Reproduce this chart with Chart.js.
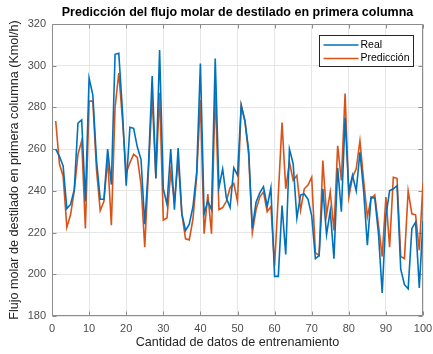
<!DOCTYPE html>
<html>
<head>
<meta charset="utf-8">
<script src="https://cdn.jsdelivr.net/npm/chart.js@4.4.1/dist/chart.umd.min.js"></script>
<style>
  html, body { margin: 0; padding: 0; background: #fff; }
  #wrap { width: 433px; height: 354px; }
</style>
</head>
<body>
<div id="wrap"><canvas id="flujoChart" width="433" height="354"></canvas></div>
<script>
// Flujo molar de destilado (Kmol/h), muestras 1..100
const real = [
  260, 256.5, 252, 231.5, 233.5, 240.5, 272.5, 274, 235, 294,
  286, 254.5, 236, 236, 260, 243, 305.5, 306, 278, 242.5,
  270.5, 270, 261, 255, 224, 252, 295, 246, 307.5, 241,
  233.5, 260, 231, 260.5, 229, 221, 224, 232.5, 249, 301,
  229, 235, 231, 303.5, 241.5, 250.5, 236.5, 232, 251, 247.5,
  281, 273.5, 259.5, 222, 234.5, 239, 242, 232.5, 241.5, 199,
  199, 233, 209.5, 260, 253, 227, 238, 238.5, 236, 228,
  207.5, 209, 241, 219, 230.5, 207.5, 251, 230, 275, 240,
  247.5, 240, 258.5, 240, 214, 237, 236.5, 219.5, 191, 228,
  240, 241, 242.5, 202.5, 195, 193, 222, 225, 193.5, 225.5
];
const prediccion = [
  273.5, 253, 247, 222.5, 228.5, 240, 257.5, 264, 222, 283,
  283, 250, 230.5, 235, 255.5, 223.5, 280, 296.5, 274, 248.5,
  253.5, 257.5, 256, 243, 213, 250, 285.5, 246, 287, 226,
  227, 249, 235, 255, 229, 217, 216.5, 226.5, 247, 283.5,
  219.5, 238.5, 219.5, 288, 231, 232, 235, 241.5, 243.5, 235,
  281, 273.5, 257.5, 220, 231, 237, 239.5, 230, 232.5, 204,
  238, 272.7, 241, 253.8, 245, 247.4, 230.7, 241, 242.8, 246.5,
  210.3, 209, 254.5, 228.5, 239.5, 221, 261.6, 245, 286.7, 237,
  246.6, 250.6, 264, 245, 227.5, 236.3, 238, 223.5, 208.5, 237,
  213, 246.5, 246, 208.5, 207.5, 240, 229, 228.5, 211.5, 244
];
const serieNombres = ['Real', 'Predicción'];
const xRango = [0, 100, 10];   // min, max, paso
const yRango = [180, 320, 20];

const FUENTE = '"Liberation Sans", Arial, Helvetica, sans-serif';

function aPuntos(arr) {
  return arr.map((v, i) => ({ x: i + 1, y: v }));
}

// marco del eje con marcas hacia dentro (estilo MATLAB)
const marcoEjes = {
  id: 'marcoEjes',
  beforeDatasetsDraw(chart) {
    const { ctx, chartArea: a, scales } = chart;
    const L = Math.round(a.left) + 0.5, R = Math.round(a.right) - 0.5;
    const T = Math.round(a.top) + 0.5, B = Math.round(a.bottom) - 0.5;
    ctx.save();
    ctx.strokeStyle = '#8c8c8c';
    ctx.lineWidth = 1;
    ctx.beginPath();
    ctx.rect(L, T, R - L, B - T);
    scales.x.ticks.forEach(t => {
      const px = Math.round(scales.x.getPixelForValue(t.value)) + 0.5;
      ctx.moveTo(px, B); ctx.lineTo(px, B - 4);
      ctx.moveTo(px, T); ctx.lineTo(px, T + 4);
    });
    scales.y.ticks.forEach(t => {
      const py = Math.round(scales.y.getPixelForValue(t.value)) + 0.5;
      ctx.moveTo(L, py); ctx.lineTo(L + 4, py);
      ctx.moveTo(R, py); ctx.lineTo(R - 4, py);
    });
    ctx.stroke();
    ctx.restore();
  }
};

// leyenda en la esquina superior derecha
const cajaLeyenda = {
  id: 'cajaLeyenda',
  afterDraw(chart) {
    const { ctx, chartArea: a } = chart;
    const w = 94, h = 31;
    const x0 = Math.round(a.right - 10 - w) + 0.5, y0 = Math.round(a.top + 11) + 0.5;
    ctx.save();
    ctx.fillStyle = '#fff';
    ctx.fillRect(x0, y0, w, h);
    ctx.strokeStyle = '#262626';
    ctx.lineWidth = 1;
    ctx.strokeRect(x0, y0, w, h);
    ctx.font = '10.5px ' + FUENTE;
    ctx.textBaseline = 'middle';
    chart.data.datasets.forEach((ds, i) => {
      const y = y0 + 9.5 + i * 13.5;
      ctx.strokeStyle = ds.borderColor;
      ctx.lineWidth = 1.5;
      ctx.beginPath();
      ctx.moveTo(x0 + 4, y);
      ctx.lineTo(x0 + 39, y);
      ctx.stroke();
      ctx.fillStyle = '#000';
      ctx.fillText(ds.label, x0 + 41, y);
    });
    ctx.restore();
  }
};

const ctx = document.getElementById('flujoChart').getContext('2d');
new Chart(ctx, {
  type: 'line',
  data: {
    datasets: [
      {
        label: serieNombres[0],
        data: aPuntos(real),
        borderColor: '#0072BD',
        backgroundColor: '#0072BD'
      },
      {
        label: serieNombres[1],
        data: aPuntos(prediccion),
        borderColor: '#D95319',
        backgroundColor: '#D95319'
      }
    ]
  },
  options: {
    responsive: false,
    animation: false,
    layout: { padding: 0 },
    elements: {
      line: { borderWidth: 1.6, tension: 0 },
      point: { radius: 0 }
    },
    plugins: {
      legend: { display: false },
      tooltip: { enabled: false },
      title: {
        display: true,
        fullSize: false,
        text: 'Predicción del flujo molar de destilado en primera columna',
        color: '#000',
        font: { family: FUENTE, size: 12.5, weight: 'bold' },
        padding: { top: 5.5, bottom: 3.5 }
      }
    },
    scales: {
      x: {
        type: 'linear',
        min: xRango[0],
        max: xRango[1],
        ticks: {
          stepSize: xRango[2],
          color: '#4d4d4d',
          font: { family: FUENTE, size: 11 },
          padding: 6,
          maxRotation: 0
        },
        grid: { color: '#e6e6e6', drawTicks: false },
        border: { display: false },
        title: {
          display: true,
          text: 'Cantidad de datos de entrenamiento',
          color: '#262626',
          font: { family: FUENTE, size: 12.6 },
          padding: { top: 0, bottom: 3.5 }
        },
        afterFit(scale) {
          scale.height = 38;
          scale.paddingRight = 10;   // margen derecho fijo
        }
      },
      y: {
        min: yRango[0],
        max: yRango[1],
        ticks: {
          stepSize: yRango[2],
          color: '#4d4d4d',
          font: { family: FUENTE, size: 11 },
          padding: 6
        },
        grid: { color: '#e6e6e6', drawTicks: false },
        border: { display: false },
        title: {
          display: true,
          text: 'Flujo molar de destilado en primera columna (Kmol/h)',
          color: '#262626',
          font: { family: FUENTE, size: 12.6 },
          padding: { top: 6.5, bottom: 0 }
        },
        afterFit(scale) { scale.width = 52; }
      }
    }
  },
  plugins: [marcoEjes, cajaLeyenda]
});
</script>
</body>
</html>
